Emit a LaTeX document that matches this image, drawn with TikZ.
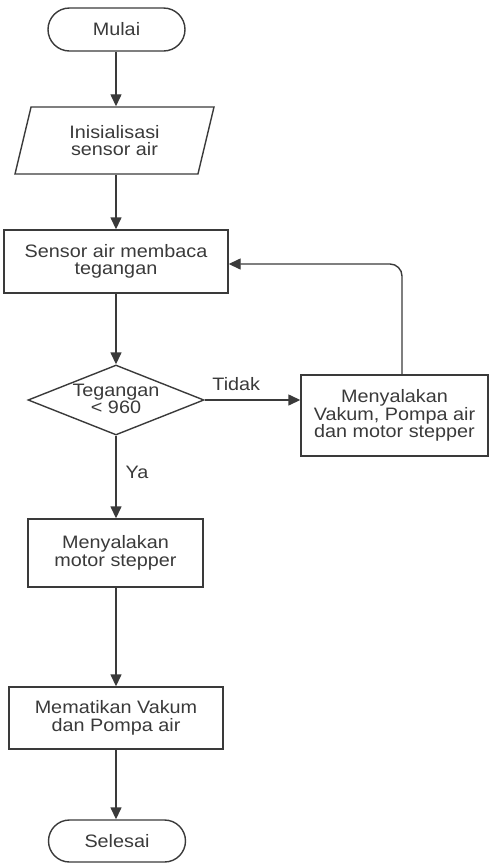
\documentclass[tikz,border=0pt]{standalone}
\usepackage{fontspec}
\setmainfont[FakeStretch=1.1]{Liberation Sans}
\usetikzlibrary{arrows.meta,shapes.geometric,shapes.misc}
\definecolor{ink}{HTML}{3A3A3A}
\begin{document}
\begin{tikzpicture}[x=1pt,y=-1pt,
  every node/.style={font=\fontsize{18}{17.5}\selectfont, text=ink},
  base/.style={draw=ink, line width=1.4pt, align=center, inner sep=0pt},
  term/.style={base, rounded rectangle, minimum width=137, minimum height=43},
  io/.style={base, trapezium, trapezium left angle=62.4, trapezium right angle=117.6,
    trapezium stretches body, minimum width=199, minimum height=67},
  proc/.style={base, rectangle},
  dec/.style={base, diamond, minimum width=176, minimum height=70},
  flow/.style={draw=ink, line width=1.4pt, -{Triangle[length=12pt,width=11pt]}},
  lbl/.style={inner sep=0pt}]
\useasboundingbox (0,0) rectangle (490,863);
\node[term] (mulai) at (116.5,29.5) {Mulai};
\node[io] (init) at (114.5,140.5) {Inisialisasi\\sensor air};
\node[proc, minimum width=224, minimum height=63] (read) at (116,261.5) {Sensor air membaca\\tegangan};
\node[dec] (dec) at (116,400) {};
\node[align=center, inner sep=0pt] (dectext) at (116,399) {Tegangan\\< 960};
\node[proc, minimum width=187, minimum height=81] (act) at (394.5,415.5) {Menyalakan\\Vakum, Pompa air\\dan motor stepper};
\node[proc, minimum width=175, minimum height=68] (motor) at (115.5,553) {Menyalakan\\motor stepper};
\node[proc, minimum width=214, minimum height=62] (off) at (116,718) {Mematikan Vakum\\dan Pompa air};
\node[term, minimum height=42] (selesai) at (117,841) {Selesai};
\coordinate (fb) at (402,375);
\draw[flow] (mulai.south -| 116,0) -- (init.north -| 116,0);
\draw[flow] (init.south -| 116,0) -- (read.north -| 116,0);
\draw[flow] (read.south -| 116,0) -- (dec.north);
\draw[flow] (dec.east) -- (act.west |- dec.east) node[lbl, pos=0.33, above=9pt] (tidak) {Tidak};
\draw[flow] (dec.south) -- (motor.north -| dec.south) node[lbl, pos=0.45, right=9pt] (ya) {Ya};
\draw[flow] (motor.south -| 116,0) -- (off.north -| 116,0);
\draw[flow] (off.south -| 116,0) -- (selesai.north -| 116,0);
\draw[flow, rounded corners=12pt] (fb) |- (read.east |- 0,264);
\end{tikzpicture}
\end{document}
